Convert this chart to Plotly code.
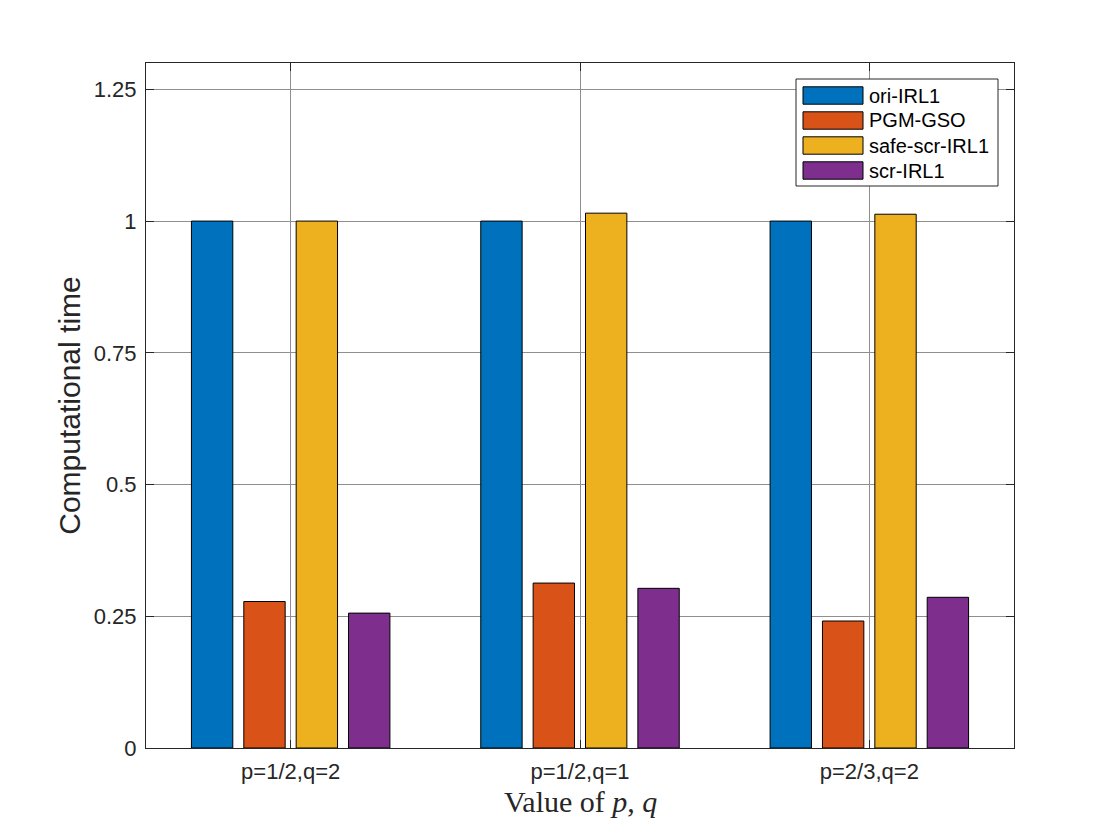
import plotly.graph_objects as go

categories = ["p=1/2,q=2", "p=1/2,q=1", "p=2/3,q=2"]
series_names = ["ori-IRL1", "PGM-GSO", "safe-scr-IRL1", "scr-IRL1"]
ori_irl1 = [1.0, 1.0, 1.0]
pgm_gso = [0.278, 0.313, 0.241]
safe_scr_irl1 = [1.0, 1.015, 1.013]
scr_irl1 = [0.256, 0.303, 0.286]
y_ticks = [0, 0.25, 0.5, 0.75, 1, 1.25]
y_tick_labels = ["0", "0.25", "0.5", "0.75", "1", "1.25"]
x_title = "Value of <i>p</i>, <i>q</i>"
y_title = "Computational time"

colors = ["#0072BD", "#D95319", "#EDB120", "#7E2F8E"]
series_values = [ori_irl1, pgm_gso, safe_scr_irl1, scr_irl1]

OFF = 8  # page offset of the figure in the browser
W, H = 1120, 840
L, R, T, B = 146 - OFF, 106 + OFF, 63 - OFF, 92 + OFF
pw, ph = W - L - R, H - T - B

def px_x(x):
    return (x - OFF - L) / pw

def px_y(y):
    return (OFF + T + ph - y) / ph

xpos = [1, 2, 3]
fig = go.Figure()
for name, vals, c in zip(series_names, series_values, colors):
    fig.add_trace(go.Bar(
        x=xpos, y=vals, name=name, marker=dict(color=c, line=dict(color="black", width=1)),
        showlegend=False,
    ))

sans = "Liberation Sans, Arial, Helvetica, sans-serif"
axis_common = dict(
    showline=True, linecolor="#262626", linewidth=1, mirror="ticks",
    ticks="inside", ticklen=8, tickcolor="#262626",
    showgrid=True, gridcolor="#8f8f8f", gridwidth=1, zeroline=False,
    tickfont=dict(family=sans, size=22, color="#262626"),
)

fig.update_layout(
    width=W, height=H,
    margin=dict(l=L, r=R, t=T, b=B),
    paper_bgcolor="white", plot_bgcolor="white",
    barmode="group", bargap=0.276, bargroupgap=0.21,
    xaxis=dict(
        range=[0.5, 3.5], tickvals=xpos, ticktext=categories,
        ticklabelstandoff=4,
        **axis_common,
    ),
    yaxis=dict(
        range=[0, 1.3], tickvals=y_ticks, ticktext=y_tick_labels,
        ticklabelstandoff=4,
        title=dict(text=y_title,
                   font=dict(family=sans, size=30, color="#262626"),
                   standoff=4),
        **axis_common,
    ),
)

# x-axis title (LaTeX-like serif)
fig.add_annotation(xref="paper", yref="paper", x=0.5, y=px_y(801),
                   text=x_title, showarrow=False, xanchor="center", yanchor="middle",
                   font=dict(family="Liberation Serif, Times New Roman, serif", size=30, color="#262626"))

# Legend (MATLAB style) built from the series names and colors
box_l, box_r, box_t, box_b = 796, 998, 79, 186
fig.add_shape(type="rect", xref="paper", yref="paper",
              x0=px_x(box_l), x1=px_x(box_r), y0=px_y(box_b), y1=px_y(box_t),
              line=dict(color="#262626", width=1), fillcolor="white", layer="above")
for i, (name, c) in enumerate(zip(series_names, colors)):
    cy = 95.5 + 25 * i
    fig.add_shape(type="rect", xref="paper", yref="paper",
                  x0=px_x(803), x1=px_x(863), y0=px_y(cy + 8.7), y1=px_y(cy - 8.7),
                  line=dict(color="black", width=1), fillcolor=c, layer="above")
    fig.add_annotation(xref="paper", yref="paper", x=px_x(867), y=px_y(cy),
                       text=name, showarrow=False, xanchor="left", yanchor="middle",
                       font=dict(family=sans, size=20, color="black"))

fig.write_html("out.html")
